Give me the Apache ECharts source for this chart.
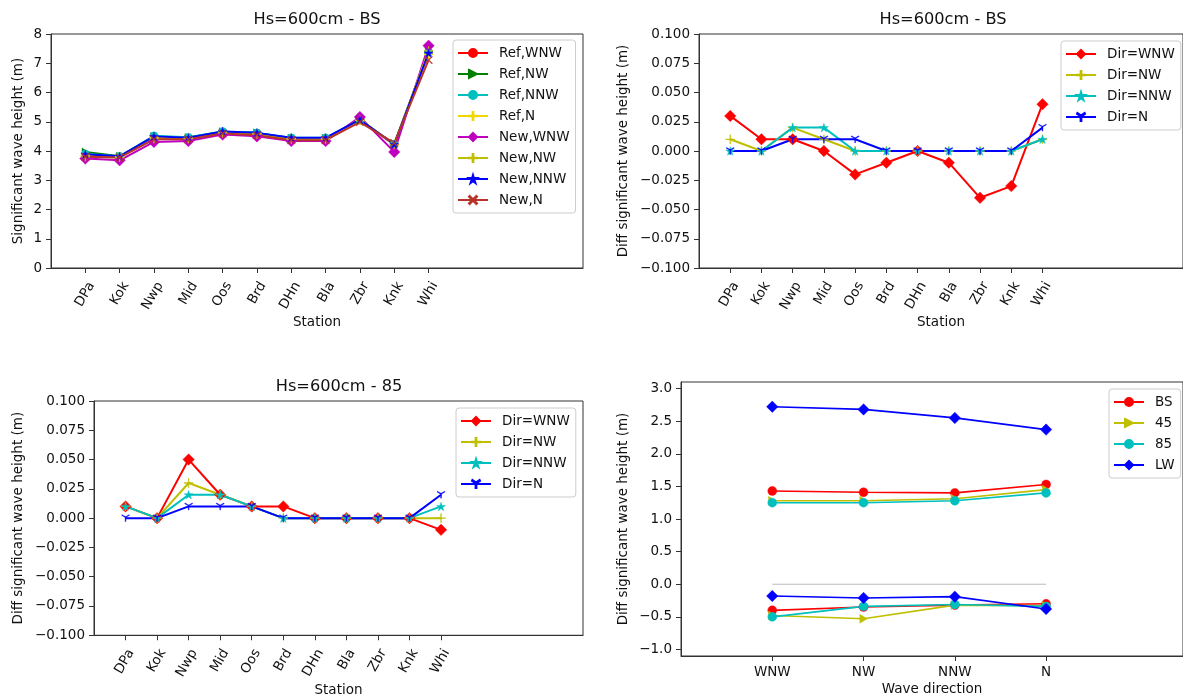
<!DOCTYPE html>
<html>
<head>
<meta charset="utf-8">
<script src="https://cdn.jsdelivr.net/npm/echarts@6/dist/echarts.min.js"></script>
<style>
  html, body { margin: 0; padding: 0; background: #fff; }
  #chart { width: 1183px; height: 698px; }
</style>
</head>
<body>
<div id="chart"></div>
<script>
// ---- data ----
const stations = ['DPa', 'Kok', 'Nwp', 'Mid', 'Oos', 'Brd', 'DHn', 'Bla', 'Zbr', 'Knk', 'Whi'];
const directions = ['WNW', 'NW', 'NNW', 'N'];

// Hs=600cm - BS, significant wave height (m)
const refWNW = [3.82, 3.80, 4.48, 4.44, 4.64, 4.60, 4.42, 4.42, 5.05, 4.22, 7.38];
const refNW  = [3.97, 3.82, 4.50, 4.46, 4.66, 4.62, 4.44, 4.44, 5.06, 4.24, 7.40];
const refNNW = [3.90, 3.82, 4.52, 4.47, 4.67, 4.62, 4.45, 4.45, 5.07, 4.24, 7.38];
const refN   = [3.85, 3.80, 4.46, 4.44, 4.63, 4.60, 4.42, 4.42, 5.04, 4.24, 7.30];
const newWNW = [3.74, 3.68, 4.31, 4.34, 4.56, 4.50, 4.34, 4.34, 5.16, 3.97, 7.60];
const newNW  = [3.80, 3.78, 4.42, 4.42, 4.62, 4.58, 4.40, 4.40, 5.08, 4.22, 7.42];
const newNNW = [3.89, 3.82, 4.50, 4.45, 4.67, 4.62, 4.45, 4.45, 5.07, 4.23, 7.35];
const newN   = [3.80, 3.78, 4.40, 4.40, 4.60, 4.54, 4.37, 4.37, 4.99, 4.27, 7.11];

// Hs=600cm - BS, difference (m)
const bsDiffWNW = [0.03, 0.01, 0.01, 0.00, -0.02, -0.01, 0.00, -0.01, -0.04, -0.03, 0.04];
const bsDiffNW  = [0.01, 0.00, 0.02, 0.01, 0.00, 0.00, 0.00, 0.00, 0.00, 0.00, 0.01];
const bsDiffNNW = [0.00, 0.00, 0.02, 0.02, 0.00, 0.00, 0.00, 0.00, 0.00, 0.00, 0.01];
const bsDiffN   = [0.00, 0.00, 0.01, 0.01, 0.01, 0.00, 0.00, 0.00, 0.00, 0.00, 0.02];

// Hs=600cm - 85, difference (m)
const d85WNW = [0.01, 0.00, 0.05, 0.02, 0.01, 0.01, 0.00, 0.00, 0.00, 0.00, -0.01];
const d85NW  = [0.01, 0.00, 0.03, 0.02, 0.01, 0.00, 0.00, 0.00, 0.00, 0.00, 0.00];
const d85NNW = [0.01, 0.00, 0.02, 0.02, 0.01, 0.00, 0.00, 0.00, 0.00, 0.00, 0.01];
const d85N   = [0.00, 0.00, 0.01, 0.01, 0.01, 0.00, 0.00, 0.00, 0.00, 0.00, 0.02];

// per wave direction, upper and lower curves (m)
const bsHigh = [1.43, 1.41, 1.40, 1.53];
const bsLow  = [-0.40, -0.35, -0.32, -0.30];
const s45High = [1.28, 1.28, 1.31, 1.45];
const s45Low  = [-0.48, -0.53, -0.32, -0.33];
const s85High = [1.25, 1.25, 1.28, 1.40];
const s85Low  = [-0.50, -0.34, -0.31, -0.34];
const lwHigh = [2.72, 2.68, 2.55, 2.37];
const lwLow  = [-0.18, -0.21, -0.19, -0.38];
const zeroLine = [0, 0, 0, 0];

const dirTicks = [-1.0, -0.5, 0.0, 0.5, 1.0, 1.5, 2.0, 2.5, 3.0];

// ---- styling helpers ----
const FONT = 'DejaVu Sans';
const TXT = '#111';
const stationPos = stations.map((s, i) => i + 1);
const dirPos = directions.map((s, i) => i + 1);

function fmt(v, d) {
  if (Math.abs(v) < 1e-9) v = 0;
  return (v < 0 ? '\u2212' : '') + Math.abs(v).toFixed(d);
}

// thin-stroke marker shapes as filled polygons
function spokes(angles, t) {
  let p = '';
  angles.forEach(a => {
    const r = a * Math.PI / 180;
    const dx = Math.cos(r), dy = -Math.sin(r);
    const nx = -dy * t, ny = dx * t;
    const pts = [[nx, ny], [dx + nx, dy + ny], [dx - nx, dy - ny], [-nx, -ny]];
    p += 'M' + pts.map(q => q[0].toFixed(3) + ',' + q[1].toFixed(3)).join('L') + 'Z';
  });
  return 'path://' + p;
}
function starPath() {
  const pts = [];
  for (let i = 0; i < 10; i++) {
    const r = i % 2 ? 0.38 : 1;
    const a = -Math.PI / 2 + i * Math.PI / 5;
    pts.push((r * Math.cos(a)).toFixed(3) + ',' + (r * Math.sin(a)).toFixed(3));
  }
  return 'path://M' + pts.join('L') + 'Z';
}
const PLUS = spokes([0, 90, 180, 270], 0.09);
const XMARK = spokes([45, 135, 225, 315], 0.09);
const TRI = spokes([270, 30, 150], 0.09);
const STAR = starPath();
const TRIRIGHT = 'path://M0,0L10,6L0,12Z';

function line(name, vals, idx, color, symbol, size, width, pos) {
  return {
    type: 'line', name, xAxisIndex: idx, yAxisIndex: idx,
    data: vals.map((v, i) => [pos[i], v]),
    color, symbol, symbolSize: size, symbolKeepAspect: true,
    lineStyle: { width, color },
    itemStyle: { color, borderColor: color, borderWidth: 0.4 },
    emphasis: { disabled: true }
  };
}

function legendAt(left, top, names) {
  return {
    orient: 'vertical', left, top, data: names,
    backgroundColor: 'rgba(255,255,255,0.85)', borderColor: '#cccccc', borderWidth: 1, borderRadius: 3,
    padding: [6, 6, 6, 4], itemGap: 7, itemWidth: 30, itemHeight: 10, symbolKeepAspect: true,
    textStyle: { fontFamily: FONT, fontSize: 13.5, color: TXT, padding: [0, 0, 0, 6] },
    selectedMode: false
  };
}

const tickStyle = { length: 5, lineStyle: { color: '#333' } };
const axisLine = { show: true, onZero: false, lineStyle: { color: '#333' } };
const nameStyle = { fontFamily: FONT, fontSize: 13.5, color: TXT };
const labelStyle = { fontFamily: FONT, fontSize: 13.5, color: TXT };

function stationX(idx) {
  return {
    type: 'value', gridIndex: idx, min: 0, max: 15.5,
    axisLine, splitLine: { show: false },
    axisTick: Object.assign({ customValues: stationPos }, tickStyle),
    axisLabel: Object.assign({
      customValues: stationPos.map(p => p + 0.18),
      formatter: v => stations[Math.round(v) - 1] || '',
      rotate: 60, margin: 15
    }, labelStyle),
    name: 'Station', nameLocation: 'middle', nameGap: 47, nameTextStyle: nameStyle
  };
}
function diffY(idx, gap) {
  return {
    type: 'value', gridIndex: idx, min: -0.1, max: 0.1, interval: 0.025,
    axisLine, splitLine: { show: false }, axisTick: tickStyle,
    axisLabel: Object.assign({ formatter: v => fmt(v, 3), margin: 9 }, labelStyle),
    name: 'Diff significant wave height (m)', nameLocation: 'middle', nameGap: gap, nameTextStyle: nameStyle
  };
}

const gridBase = { show: true, borderColor: '#333', borderWidth: 1, backgroundColor: 'transparent', containLabel: false };

const R = '#ff0000', G = '#008000', C = '#00bfbf', Y = '#bfbf00', B = '#0000ff', M = '#bf00bf';
const GOLD = '#f2d600', BROWN = '#b8332a';

const series = [
  line('Ref,WNW', refWNW, 0, R, 'circle', 8, 2, stationPos),
  line('Ref,NW', refNW, 0, G, TRIRIGHT, 8, 2, stationPos),
  line('Ref,NNW', refNNW, 0, C, 'circle', 8, 2, stationPos),
  line('Ref,N', refN, 0, GOLD, PLUS, 9, 2, stationPos),
  line('New,WNW', newWNW, 0, M, 'diamond', 11.5, 2, stationPos),
  line('New,NW', newNW, 0, Y, PLUS, 9, 2, stationPos),
  line('New,NNW', newNNW, 0, B, STAR, 9, 2, stationPos),
  line('New,N', newN, 0, BROWN, XMARK, 8, 2, stationPos),

  line('Dir=WNW', bsDiffWNW, 1, R, 'diamond', 11.5, 2, stationPos),
  line('Dir=NW', bsDiffNW, 1, Y, PLUS, 9, 2, stationPos),
  line('Dir=NNW', bsDiffNNW, 1, C, STAR, 9, 2, stationPos),
  line('Dir=N', bsDiffN, 1, B, TRI, 8, 2, stationPos),

  line('Dir=WNW', d85WNW, 2, R, 'diamond', 11.5, 2, stationPos),
  line('Dir=NW', d85NW, 2, Y, PLUS, 9, 2, stationPos),
  line('Dir=NNW', d85NNW, 2, C, STAR, 9, 2, stationPos),
  line('Dir=N', d85N, 2, B, TRI, 8, 2, stationPos),

  Object.assign(line('zero', zeroLine, 3, '#aaaaaa', 'none', 0, 0.8, dirPos), { silent: true }),
  line('BS', bsHigh, 3, R, 'circle', 9, 1.6, dirPos),
  line('BS', bsLow, 3, R, 'circle', 9, 1.6, dirPos),
  line('45', s45High, 3, Y, TRIRIGHT, 9, 1.6, dirPos),
  line('45', s45Low, 3, Y, TRIRIGHT, 9, 1.6, dirPos),
  line('85', s85High, 3, C, 'circle', 9, 1.6, dirPos),
  line('85', s85Low, 3, C, 'circle', 9, 1.6, dirPos),
  line('LW', lwHigh, 3, B, 'diamond', 11.5, 1.6, dirPos),
  line('LW', lwLow, 3, B, 'diamond', 11.5, 1.6, dirPos)
];

function title(text, x, y) {
  return {
    type: 'text', x, y, silent: true,
    style: { text, fill: TXT, font: '16.2px "DejaVu Sans"', align: 'center', verticalAlign: 'middle' }
  };
}

const chart = echarts.init(document.getElementById('chart'), null, { renderer: 'canvas' });
chart.setOption({
  animation: false,
  backgroundColor: '#fff',
  grid: [
    Object.assign({ left: 51, top: 34, width: 532, height: 234 }, gridBase),
    Object.assign({ left: 699, top: 34, width: 488, height: 234 }, gridBase),
    Object.assign({ left: 94, top: 401, width: 489, height: 236 }, gridBase),
    Object.assign({ left: 681, top: 382, width: 507, height: 274 }, gridBase)
  ],
  xAxis: [
    stationX(0), stationX(1), stationX(2),
    {
      type: 'value', gridIndex: 3, min: 0, max: 5.5,
      axisLine, splitLine: { show: false },
      axisTick: Object.assign({ customValues: dirPos }, tickStyle),
      axisLabel: Object.assign({
        customValues: dirPos, formatter: v => directions[Math.round(v) - 1] || '', margin: 9
      }, labelStyle),
      name: 'Wave direction', nameLocation: 'middle', nameGap: 26, nameTextStyle: nameStyle
    }
  ],
  yAxis: [
    {
      type: 'value', gridIndex: 0, min: 0, max: 8, interval: 1,
      axisLine, splitLine: { show: false }, axisTick: tickStyle,
      axisLabel: Object.assign({ margin: 9 }, labelStyle),
      name: 'Significant wave height (m)', nameLocation: 'middle', nameGap: 26, nameTextStyle: nameStyle
    },
    diffY(1, 69),
    diffY(2, 69),
    {
      type: 'value', gridIndex: 3, min: -1.1, max: 3.1,
      axisLine, splitLine: { show: false },
      axisTick: Object.assign({ customValues: dirTicks }, tickStyle),
      axisLabel: Object.assign({ customValues: dirTicks, formatter: v => fmt(v, 1), margin: 9 }, labelStyle),
      name: 'Diff significant wave height (m)', nameLocation: 'middle', nameGap: 51, nameTextStyle: nameStyle
    }
  ],
  legend: [
    legendAt(453, 40, ['Ref,WNW', 'Ref,NW', 'Ref,NNW', 'Ref,N', 'New,WNW', 'New,NW', 'New,NNW', 'New,N']),
    legendAt(1061, 41, ['Dir=WNW', 'Dir=NW', 'Dir=NNW', 'Dir=N']),
    legendAt(456, 408, ['Dir=WNW', 'Dir=NW', 'Dir=NNW', 'Dir=N']),
    legendAt(1109, 389, ['BS', '45', '85', 'LW'])
  ],
  graphic: [
    title('Hs=600cm - BS', 317, 20),
    title('Hs=600cm - BS', 943, 20),
    title('Hs=600cm - 85', 339, 387)
  ],
  series
});
</script>
</body>
</html>
